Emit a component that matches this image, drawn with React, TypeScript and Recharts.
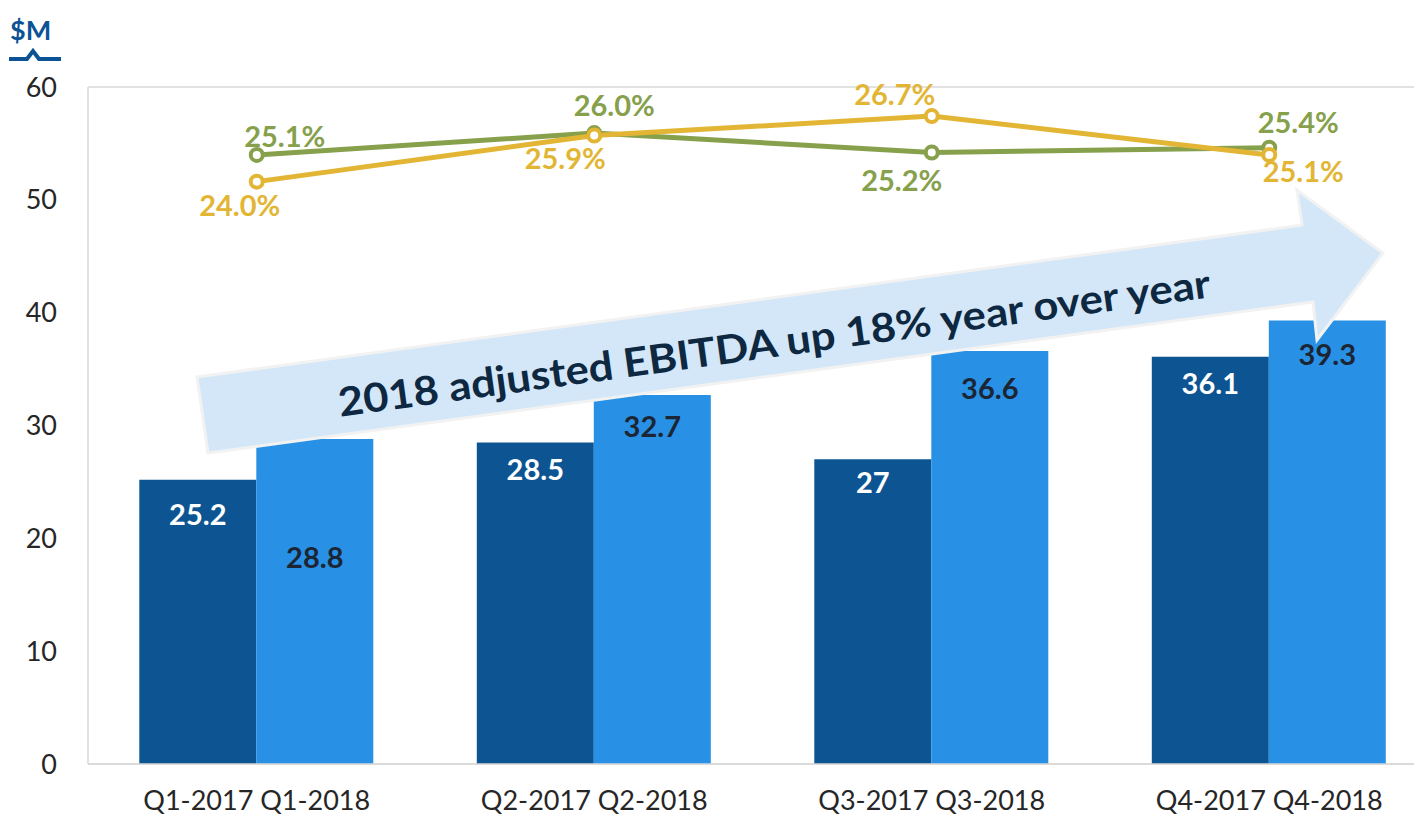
import React from 'react';
import {
  ComposedChart,
  Bar,
  Line,
  LabelList,
  XAxis,
  YAxis,
  CartesianGrid,
} from 'recharts';

// quarters (one tick per pair of bars)
const QUARTERS = ['Q1-2017 Q1-2018', 'Q2-2017 Q2-2018', 'Q3-2017 Q3-2018', 'Q4-2017 Q4-2018'];
// adjusted EBITDA, $M
const EBITDA_2017 = [25.2, 28.5, 27, 36.1];
const EBITDA_2018 = [28.8, 32.7, 36.6, 39.3];
// EBITDA margin, %
const MARGIN_2017 = [25.1, 26.0, 25.2, 25.4];
const MARGIN_2018 = [24.0, 25.9, 26.7, 25.1];
const Y_TICKS = [0, 10, 20, 30, 40, 50, 60];

const DARK = '#0c5592';
const LIGHT = '#2891e6';
const GREEN = '#86a04c';
const YELLOW = '#e2b634';
const FONT = 'Lato, "Open Sans", sans-serif';

// label placement (px offsets from the mark)
const DARK_LABEL_DY = [34, 26, 22, 26];
const LIGHT_LABEL_DY = [117, 30, 36, 33];
const GREEN_LABEL_OFF = [
  [28, -19],
  [20, -29],
  [-30, 27],
  [29, -26],
];
const YELLOW_LABEL_OFF = [
  [-17, 23],
  [-29, 22],
  [-37, -23],
  [34, 16],
];

const data = QUARTERS.map((q, i) => ({
  q,
  e2017: EBITDA_2017[i],
  e2018: EBITDA_2018[i],
  m2017: MARGIN_2017[i],
  m2018: MARGIN_2018[i],
}));

const barLabel = (color: string, dys: number[]) => (props: any) => {
  const { x, y, width, index, value } = props;
  return (
    <text
      x={Number(x) + Number(width) / 2}
      y={Number(y) + dys[index]}
      textAnchor="middle"
      dominantBaseline="central"
      fill={color}
      fontSize={29}
      fontWeight={700}
      fontFamily={FONT}
    >
      {String(value)}
    </text>
  );
};

const lineLabel = (color: string, offs: number[][]) => (props: any) => {
  const { x, y, index, value } = props;
  return (
    <text
      x={Number(x) + offs[index][0]}
      y={Number(y) + offs[index][1]}
      textAnchor="middle"
      dominantBaseline="central"
      fill={color}
      fontSize={29}
      fontWeight={700}
      fontFamily={FONT}
    >
      {Number(value).toFixed(1) + '%'}
    </text>
  );
};

const hollowDot = (color: string) => (props: any) => {
  const { cx, cy, index } = props;
  return <circle key={index} cx={cx} cy={cy} r={6} fill="#fff" stroke={color} strokeWidth={4} />;
};

function Arrow() {
  const pts = '197,377 1302,225 1297,190 1383,253 1317,340 1313,302 208,453';
  return (
    <svg
      width={1414}
      height={818}
      style={{ position: 'absolute', left: 0, top: 0, pointerEvents: 'none' }}
    >
      <polygon points={pts} fill="#d3e7f8" stroke="#f2f2f2" strokeWidth={3} strokeLinejoin="miter" />
      <text
        x={774}
        y={342}
        transform="rotate(-7.83 774 342)"
        textAnchor="middle"
        dominantBaseline="central"
        fill="#0e2841"
        fontSize={40}
        fontWeight={700}
        fontFamily={FONT}
        textLength={880}
        lengthAdjust="spacingAndGlyphs"
      >
        2018 adjusted EBITDA up 18% year over year
      </text>
      {/* unit label */}
      <text x={10} y={40} fill="#0b5394" fontSize={27} fontWeight={700} fontFamily={FONT}>
        $M
      </text>
      <polyline
        points="9,59 27,59 33,51 39,59 61,59"
        fill="none"
        stroke="#0b5394"
        strokeWidth={4}
      />
    </svg>
  );
}

export default function App() {
  return (
    <div
      style={{
        position: 'absolute',
        left: 0,
        top: 0,
        width: 1414,
        height: 818,
        overflow: 'hidden',
        background: '#fff',
      }}
    >
      <ComposedChart
        width={1438}
        height={818}
        data={data}
        margin={{ top: 87, right: 0, left: 0, bottom: 0 }}
        barCategoryGap="15.2%"
        barGap={0}
      >
        <CartesianGrid vertical={false} stroke="#d9d9d9" strokeWidth={1.5} />
        <XAxis
          dataKey="q"
          height={54}
          tickLine={false}
          axisLine={{ stroke: '#d9d9d9', strokeWidth: 1.5 }}
          tickMargin={21}
          tick={{ fontSize: 27, fill: '#262626', fontFamily: FONT }}
          interval={0}
        />
        <YAxis
          yAxisId="left"
          width={88}
          domain={[0, 60]}
          ticks={Y_TICKS}
          tickLine={false}
          axisLine={{ stroke: '#d9d9d9', strokeWidth: 1.5 }}
          tickMargin={25}
          tick={{ fontSize: 27, fill: '#262626', fontFamily: FONT }}
        />
        <YAxis yAxisId="right" orientation="right" hide domain={[0, 27.9]} />
        <Bar yAxisId="left" dataKey="e2017" fill={DARK} isAnimationActive={false}>
          <LabelList dataKey="e2017" content={barLabel('#ffffff', DARK_LABEL_DY)} />
        </Bar>
        <Bar yAxisId="left" dataKey="e2018" fill={LIGHT} isAnimationActive={false}>
          <LabelList dataKey="e2018" content={barLabel('#1c2533', LIGHT_LABEL_DY)} />
        </Bar>
        <Line
          yAxisId="right"
          dataKey="m2017"
          stroke={GREEN}
          strokeWidth={5}
          dot={hollowDot(GREEN)}
          activeDot={false}
          isAnimationActive={false}
        >
          <LabelList dataKey="m2017" content={lineLabel(GREEN, GREEN_LABEL_OFF)} />
        </Line>
        <Line
          yAxisId="right"
          dataKey="m2018"
          stroke={YELLOW}
          strokeWidth={5}
          dot={hollowDot(YELLOW)}
          activeDot={false}
          isAnimationActive={false}
        >
          <LabelList dataKey="m2018" content={lineLabel(YELLOW, YELLOW_LABEL_OFF)} />
        </Line>
      </ComposedChart>
      <Arrow />
    </div>
  );
}
